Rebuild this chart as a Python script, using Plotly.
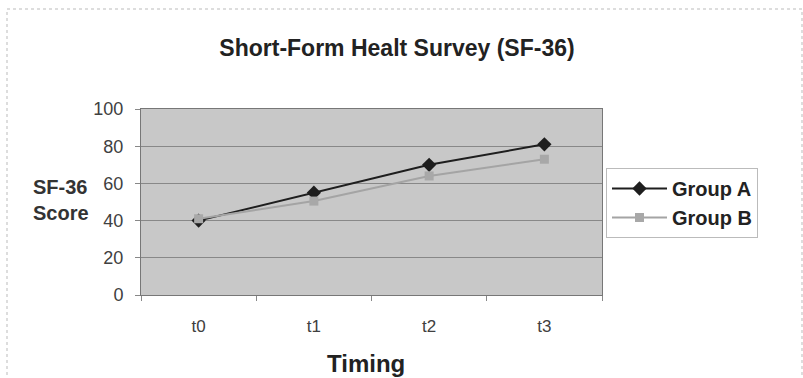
import plotly.graph_objects as go

categories = ["t0", "t1", "t2", "t3"]
group_a = [40, 55, 70, 81]
group_b = [41, 50.5, 64, 73]
y_ticks = [0, 20, 40, 60, 80, 100]

W, H = 803, 378
L, R, T, B = 141, 602, 109, 295
PW, PH = R - L, B - T


def px(x):
    return (x - L) / PW


def py(y):
    return (B - y) / PH


fig = go.Figure()
fig.add_trace(go.Scatter(x=categories, y=group_a, name="<b>Group A</b>", mode="lines+markers",
                         line=dict(color="#1e1e1e", width=2),
                         marker=dict(symbol="diamond", size=11, color="#1e1e1e")))
fig.add_trace(go.Scatter(x=categories, y=group_b, name="<b>Group B</b>", mode="lines+markers",
                         line=dict(color="#a4a4a4", width=2),
                         marker=dict(symbol="square", size=9, color="#a8a8a8")))

fig.update_layout(
    width=W, height=H,
    margin=dict(l=L, r=W - R, t=T, b=H - B, autoexpand=False),
    paper_bgcolor="white",
    plot_bgcolor="#c8c8c8",
    font=dict(family="Liberation Sans, Arial", color="#404040"),
    title=dict(text="<b>Short-Form Healt Survey (SF-36)</b>", x=397 / W, xanchor="center",
               y=1 - 48 / H, yanchor="middle", font=dict(size=23, color="#222")),
    xaxis=dict(type="category", range=[-0.5, 3.5], showgrid=False,
               ticks="outside", ticklen=5, tickcolor="#888", tickson="boundaries",
               tickfont=dict(size=17, color="#404040"), ticklabelstandoff=16,
               showline=True, linecolor="#777", linewidth=1, mirror=True, zeroline=False),
    yaxis=dict(range=[0, 100], tickvals=y_ticks, showgrid=True, gridcolor="#888888",
               gridwidth=1, ticks="outside", ticklen=5, tickcolor="#888",
               tickfont=dict(size=18, color="#404040"), ticklabelstandoff=8,
               showline=True, linecolor="#777", linewidth=1, mirror=True, zeroline=False),
    showlegend=True,
    legend=dict(x=px(606), y=py(168), xanchor="left", yanchor="top",
                bgcolor="white", bordercolor="#bbbbbb", borderwidth=1,
                font=dict(size=20, color="#222"), itemwidth=55,
                entrywidth=100, tracegroupgap=0),
)

fig.add_annotation(text="<b>SF-36<br>Score</b>", xref="paper", yref="paper",
                   x=px(61), y=py(200), xanchor="center", yanchor="middle",
                   showarrow=False, align="left", font=dict(size=20, color="#333"))
fig.add_annotation(text="<b>Timing</b>", xref="paper", yref="paper",
                   x=px(366), y=py(363), xanchor="center", yanchor="middle",
                   showarrow=False, font=dict(size=24, color="#222"))

fig.add_shape(type="rect", xref="paper", yref="paper",
              x0=px(7), x1=px(802), y0=py(390), y1=py(9),
              line=dict(color="#bbbbbb", width=1, dash="dot"), layer="below")

fig.write_html("out.html")
